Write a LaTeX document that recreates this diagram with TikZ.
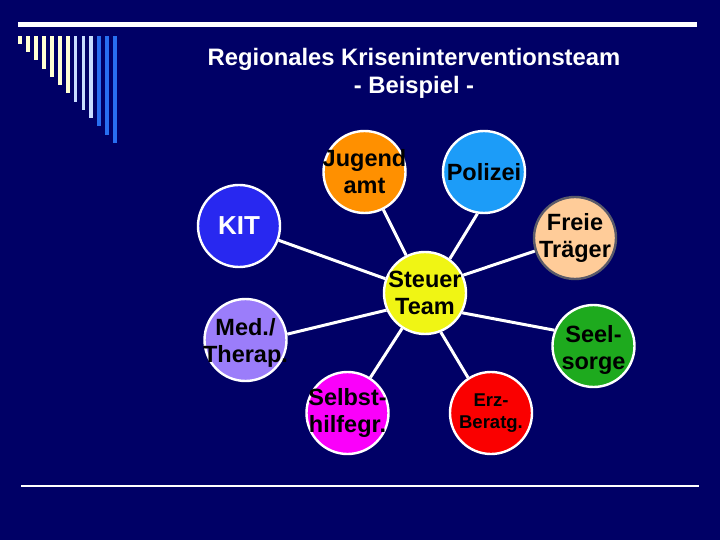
\documentclass[tikz,border=0pt]{standalone}
\usepackage{fontspec}
\setmainfont{Liberation Sans}
\pgfdeclarelayer{bg}
\pgfdeclarelayer{links}
\pgfsetlayers{bg,links,main}
\definecolor{bgnavy}{RGB}{0,0,102}
\definecolor{barcream}{RGB}{255,255,210}
\definecolor{barlight}{RGB}{200,220,255}
\definecolor{barblue}{RGB}{40,110,240}
\definecolor{cjug}{RGB}{255,144,0}
\definecolor{cpol}{RGB}{28,156,248}
\definecolor{ckit}{RGB}{40,40,240}
\definecolor{cste}{RGB}{240,245,20}
\definecolor{cmed}{RGB}{155,125,250}
\definecolor{csel}{RGB}{250,0,250}
\definecolor{cerz}{RGB}{250,0,0}
\definecolor{csee}{RGB}{30,170,30}
\definecolor{cfre}{RGB}{255,204,153}
\definecolor{cfreb}{RGB}{90,90,105}
\tikzset{
  bub/.style={circle, draw=white, line width=2.4pt, minimum size=82pt, inner sep=0pt},
  btxt/.style={font=\bfseries\fontsize{23.5}{27}\selectfont, align=center, text=black, inner sep=0pt},
  stxt/.style={font=\bfseries\fontsize{18.5}{22}\selectfont, align=center, text=black, inner sep=0pt},
  ttl/.style={font=\bfseries\fontsize{23.8}{28}\selectfont, text=white, inner sep=0pt, anchor=base},
  link/.style={draw=white, line width=3pt},
}
\begin{document}
\begin{tikzpicture}[x=1pt,y=-1pt]
\begin{pgfonlayer}{bg}
\fill[bgnavy] (0,0) rectangle (720,540);
\end{pgfonlayer}
\useasboundingbox (0,0) rectangle (720,540);
% top bar and bottom line
\fill[white] (18,22) rectangle (697,27);
\draw[white, line width=1.5pt] (21,486) -- (699,486);
% decorative bars
\foreach \i in {0,...,6}
  \fill[barcream] ({18.3+7.9*\i},36) rectangle ({22.1+7.9*\i},{44+8.25*\i});
\foreach \i in {7,8,9}
  \fill[barlight] ({18.3+7.9*\i},36) rectangle ({22.1+7.9*\i},{44+8.25*\i});
\foreach \i in {10,11,12}
  \fill[barblue] ({18.3+7.9*\i},36) rectangle ({22.1+7.9*\i},{44+8.25*\i});
% title
\node[ttl] (title1) at (414,66) {Regionales Kriseninterventionsteam};
\node[ttl] (title2) at (414,94) {- Beispiel -};
% circles
\node[bub, fill=cjug] (jug) at (364.5,172) {};
\node[bub, fill=cpol] (pol) at (484,172) {};
\node[bub, fill=ckit] (kit) at (239,226) {};
\node[bub, fill=cste] (ste) at (425,293) {};
\node[bub, fill=cmed] (med) at (245.5,340) {};
\node[bub, fill=csel] (sel) at (347.5,413) {};
\node[bub, fill=cerz] (erz) at (491,413) {};
\node[bub, fill=csee] (see) at (593.5,346) {};
\node[bub, fill=cfre, draw=cfreb] (fre) at (575,238) {};
% texts
\node[btxt] (jugt) at (364.5,172) {Jugend\\amt};
\node[btxt] (polt) at (484,172) {Polizei};
\node[btxt, text=white, font=\bfseries\fontsize{26}{30}\selectfont] (kitt) at (239,226) {KIT};
\node[btxt] (stet) at (425,293) {Steuer\\Team};
\node[btxt] (medt) at (245.5,343) {Med./\\Therap.};
\node[btxt] (selt) at (347.5,413) {Selbst-\\hilfegr.};
\node[stxt] (erzt) at (491,413) {Erz-\\Beratg.};
\node[btxt] (seet) at (593.5,350) {Seel-\\sorge};
\node[btxt] (fret) at (575,238) {Freie\\Träger};
% connectors
\begin{pgfonlayer}{links}
\draw[link] (ste) -- (jug);
\draw[link] (ste.54) -- (pol.-99);
\draw[link] (ste) -- (kit);
\draw[link] (ste.204) -- (med.8);
\draw[link] (ste) -- (sel);
\draw[link] (ste.-68) -- (erz.123);
\draw[link] (ste.-28) -- (see.158);
\draw[link] (ste.25) -- (fre.198);
\end{pgfonlayer}
\end{tikzpicture}
\end{document}
